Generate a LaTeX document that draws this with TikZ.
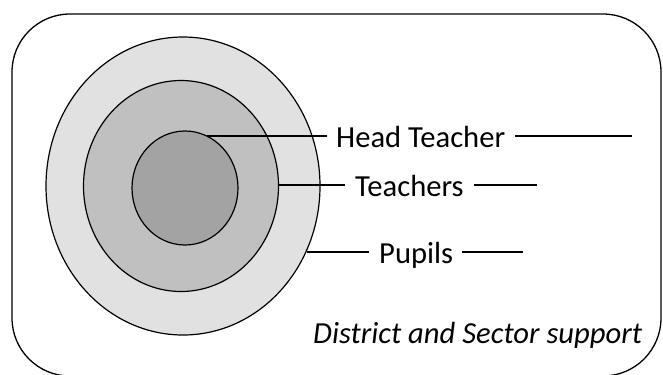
\documentclass[tikz,border=0pt]{standalone}
\usepackage{fontspec}
\setmainfont{Carlito}
\usetikzlibrary{shapes.geometric}
\definecolor{ringA}{RGB}{225,225,225}
\definecolor{ringB}{RGB}{192,192,192}
\definecolor{ringC}{RGB}{163,163,163}
\begin{document}
\begin{tikzpicture}[x=1bp,y=-1bp,
  ring/.style={ellipse, draw=black, line width=1.2bp, inner sep=0pt},
  lbl/.style={font=\fontsize{30.6bp}{35bp}\selectfont, inner sep=0pt, anchor=base west},
  lead/.style={line width=1.2bp}]
\useasboundingbox (0,0) rectangle (663,374);
% outer frame
\draw[line width=1.3bp, rounded corners=58bp] (12,14) rectangle (661,376);
% nested rings
\node[ring, fill=ringA, minimum width=274bp, minimum height=298bp] (outer) at (183,186) {};
\node[ring, fill=ringB, minimum width=195bp, minimum height=211bp] (middle) at (181,186) {};
\node[ring, fill=ringC, minimum width=106bp, minimum height=114bp] (inner) at (185,188) {};
% labels
\node[lbl] (ht) at (336,147) {Head Teacher};
\node[lbl] (tc) at (355,196) {Teachers};
\node[lbl] (pp) at (379,263) {Pupils};
\node[lbl, font=\fontsize{30.6bp}{35bp}\selectfont\itshape] (ds) at (313,343) {District and Sector support};
% leader points on the ring borders and tail ends
\coordinate (hs) at (207,136);
\coordinate (ts) at (278,185);
\coordinate (ps) at (307,252);
\coordinate (he) at (632,136);
\coordinate (te) at (537,185);
\coordinate (pe) at (523,252);
% leader lines
\draw[lead] (hs) -- ([xshift=-9bp]ht.west |- hs);
\draw[lead] ([xshift=10bp]ht.east |- he) -- (he);
\draw[lead] (ts) -- ([xshift=-10bp]tc.west |- ts);
\draw[lead] ([xshift=10bp]tc.east |- te) -- (te);
\draw[lead] (ps) -- ([xshift=-10bp]pp.west |- ps);
\draw[lead] ([xshift=9bp]pp.east |- pe) -- (pe);
\end{tikzpicture}
\end{document}
